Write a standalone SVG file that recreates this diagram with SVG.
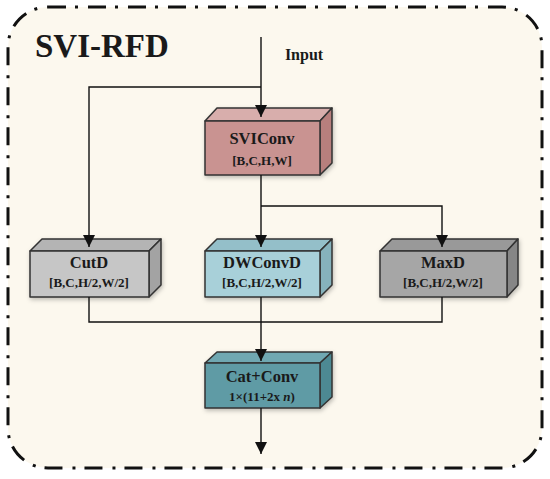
<svg xmlns="http://www.w3.org/2000/svg" width="550" height="479" viewBox="0 0 550 479">
<defs>
<style>
.t{font-family:"Liberation Serif","Times New Roman",serif;font-weight:bold;fill:#1a1a1a;text-anchor:middle}
.lbl{font-size:16.5px}
.sub{font-size:13px}
.ln{fill:none;stroke:#111;stroke-width:1.4}
.edge{stroke:#333;stroke-width:1.5;stroke-linejoin:round}
.box{filter:url(#sh)}
</style>
<filter id="sh" x="-20%" y="-20%" width="140%" height="150%">
<feDropShadow dx="1" dy="2" stdDeviation="2" flood-color="#000" flood-opacity="0.25"/>
</filter>
<marker id="ah" markerWidth="12" markerHeight="12" viewBox="0 0 12 12" refX="12" refY="6" orient="auto" markerUnits="userSpaceOnUse">
<path d="M0,0 L12,6 L0,12 Z" fill="#111"/>
</marker>
</defs>
<rect x="0" y="0" width="550" height="479" fill="#ffffff"/>
<rect x="8" y="7" width="534" height="461" rx="40" ry="40" fill="#fcf8ee" stroke="#111" stroke-width="3" stroke-dasharray="18 9 3 10"/>
<text class="t" x="35" y="57" font-size="33" style="text-anchor:start">SVI-RFD</text>
<text class="t" x="304" y="60" font-size="16">Input</text>

<g id="SVIConv" class="box">
<polygon class="edge" points="205,121 217,108 332,108 320,121" fill="#d8aeac"/>
<polygon class="edge" points="320,121 332,108 332,163 320,175" fill="#b77f7d"/>
<rect class="edge" x="205" y="121" width="115" height="54" fill="#c99391"/>
</g>
<g id="CutD" class="box">
<polygon class="edge" points="30,251 42,239 161,239 149,251" fill="#b4b4b4"/>
<polygon class="edge" points="149,251 161,239 161,285 149,297" fill="#a3a3a3"/>
<rect class="edge" x="30" y="251" width="119" height="46" fill="#c6c6c6"/>
</g>
<g id="DWConvD" class="box">
<polygon class="edge" points="205,251 217,239 332,239 320,251" fill="#94bfc9"/>
<polygon class="edge" points="320,251 332,239 332,285 320,297" fill="#86b2bc"/>
<rect class="edge" x="205" y="251" width="115" height="46" fill="#a8d0d9"/>
</g>
<g id="MaxD" class="box">
<polygon class="edge" points="380,251 392,239 518,239 507,251" fill="#999999"/>
<polygon class="edge" points="507,251 518,239 518,285 507,297" fill="#868686"/>
<rect class="edge" x="380" y="251" width="127" height="46" fill="#a6a6a6"/>
</g>
<g id="CatConv" class="box">
<polygon class="edge" points="205,363 217,352 332,352 320,363" fill="#6fa8b2"/>
<polygon class="edge" points="320,363 332,352 332,397 320,408" fill="#4d8993"/>
<rect class="edge" x="205" y="363" width="115" height="45" fill="#5f9ba5"/>
</g>

<g id="connectors">
<path class="ln" d="M261,37 V117" marker-end="url(#ah)"/>
<path class="ln" d="M261,87 H89 V247" marker-end="url(#ah)"/>
<path class="ln" d="M261,175 V247" marker-end="url(#ah)"/>
<path class="ln" d="M261,206 H442 V247" marker-end="url(#ah)"/>
<path class="ln" d="M89,297 V322 H442 V297"/>
<path class="ln" d="M261,297 V361" marker-end="url(#ah)"/>
<path class="ln" d="M261,408 V454" marker-end="url(#ah)"/>
</g>

<g id="labels">
<text class="t lbl" x="262" y="144">SVIConv</text>
<text class="t sub" x="262" y="165">[B,C,H,W]</text>
<text class="t lbl" x="89" y="268">CutD</text>
<text class="t sub" x="89" y="287">[B,C,H/2,W/2]</text>
<text class="t lbl" x="262" y="268">DWConvD</text>
<text class="t sub" x="262" y="287">[B,C,H/2,W/2]</text>
<text class="t lbl" x="443" y="268">MaxD</text>
<text class="t sub" x="443" y="287">[B,C,H/2,W/2]</text>
<text class="t lbl" x="262" y="382">Cat+Conv</text>
<text class="t sub" x="262" y="401">1×(11+2x <tspan font-style="italic">n</tspan>)</text>
</g>
</svg>
